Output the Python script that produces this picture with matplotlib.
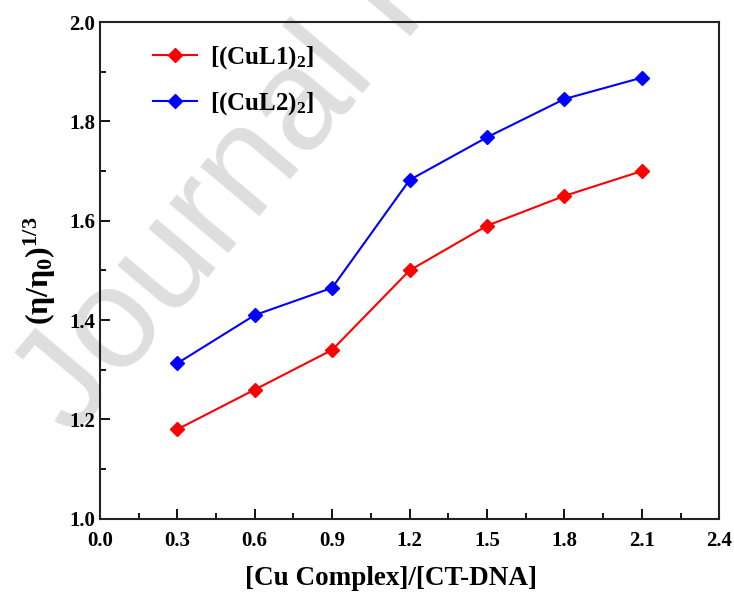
import numpy as np
import matplotlib.pyplot as plt

plt.rcParams['font.family'] = 'Liberation Serif'
plt.rcParams['font.weight'] = 'bold'
plt.rcParams['mathtext.fontset'] = 'custom'
plt.rcParams['mathtext.rm'] = 'Liberation Serif:bold'
plt.rcParams['mathtext.it'] = 'Liberation Serif:bold'
plt.rcParams['mathtext.bf'] = 'Liberation Serif:bold'

ratio = [0.3, 0.6, 0.9, 1.2, 1.5, 1.8, 2.1]
cul1 = [1.18, 1.26, 1.34, 1.50, 1.59, 1.65, 1.70]
cul2 = [1.313, 1.41, 1.465, 1.682, 1.768, 1.845, 1.888]
labels = [r'[(CuL1)$_2$]', r'[(CuL2)$_2$]']

fig = plt.figure(figsize=(7.34, 5.95), dpi=100)
ax = fig.add_axes([0.136, 0.128, 0.844, 0.835])
ax.patch.set_alpha(0)

# watermark
fig.text(0.1, 0.262, 'Journal Pre-proof', family='Liberation Sans', fontweight='normal',
         fontsize=104, color='#dedede', rotation=50, rotation_mode='anchor',
         ha='left', va='baseline', zorder=-1)

ax.plot(ratio, cul1, '-D', color='#ff0000', lw=1.5, ms=7.5, label=labels[0])
ax.plot(ratio, cul2, '-D', color='#0000ff', lw=1.5, ms=7.5, label=labels[1])

ax.set_xlim(0, 2.4)
ax.set_ylim(1.0, 2.0)
ax.set_xticks(np.arange(0, 2.41, 0.3))
ax.set_xticks(np.arange(0.15, 2.4, 0.3), minor=True)
ax.set_yticks(np.arange(1.0, 2.01, 0.2))
ax.set_yticks(np.arange(1.1, 2.0, 0.2), minor=True)
ax.xaxis.set_major_formatter(plt.FormatStrFormatter('%.1f'))
ax.yaxis.set_major_formatter(plt.FormatStrFormatter('%.1f'))
ax.tick_params(which='both', direction='in', labelsize=15, width=1.3)
ax.tick_params(axis='x', pad=9)
ax.tick_params(which='major', length=7)
ax.tick_params(which='minor', length=4)
for s in ax.spines.values():
    s.set_linewidth(1.5)
    s.set_color('#222222')

ax.set_xlabel('[Cu Complex]/[CT-DNA]', fontsize=19.5, fontweight='bold')
ax.xaxis.set_label_coords(0.47, -0.095)
ax.set_ylabel(r'$(\eta/\eta_0)^{1/3}$', fontsize=23, labelpad=8)

ax.legend(loc='upper left', frameon=False, fontsize=18, handlelength=1.75,
          handletextpad=0.5, labelspacing=0.75, borderaxespad=0.5,
          bbox_to_anchor=(0.05, 1.0))

fig.savefig('out.png', dpi=100)
